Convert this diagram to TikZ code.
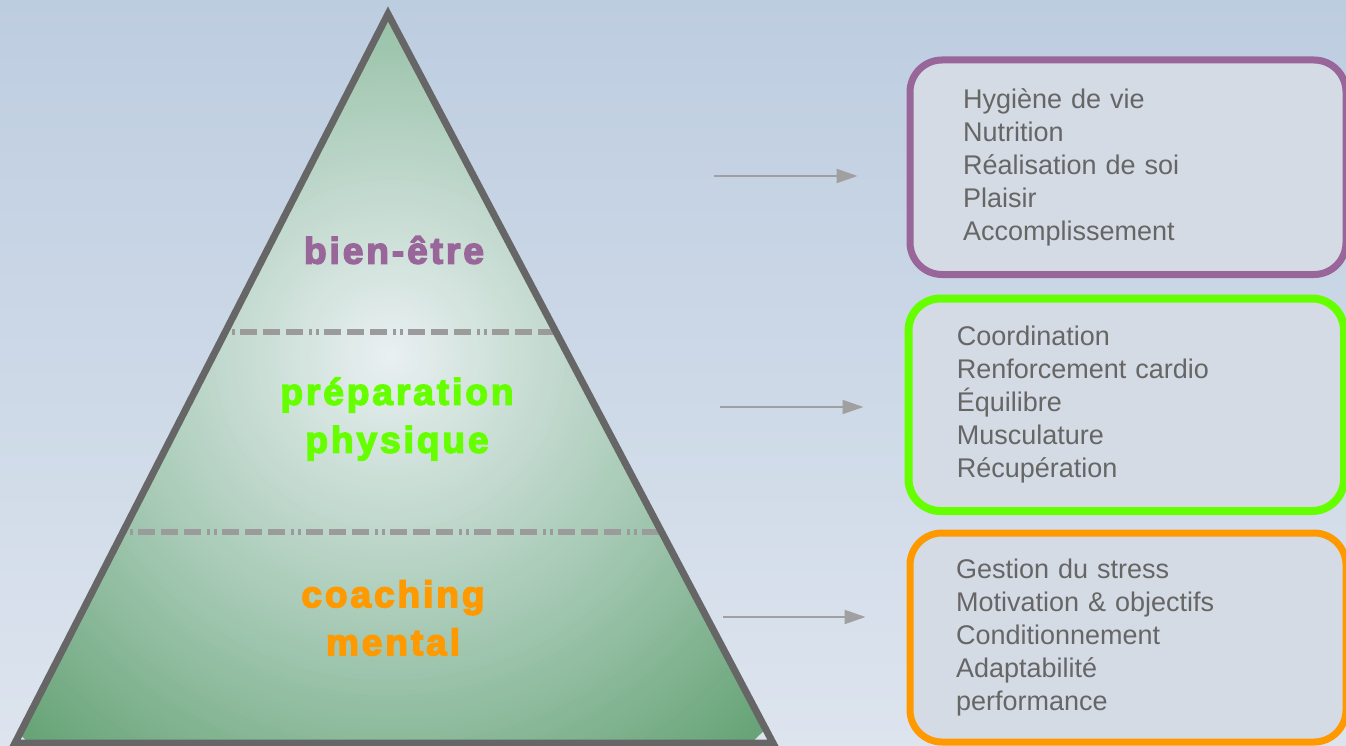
\documentclass[tikz,border=0pt]{standalone}
\usepackage{fontspec}
\setmainfont{Liberation Sans}
\newfontfamily\levelfont[LetterSpace=8, FakeBold=4]{Liberation Sans Bold}
\usetikzlibrary{arrows.meta, positioning, calc}
\usepackage{xcolor}
\definecolor{bgtop}{RGB}{189,205,224}
\definecolor{bgbottom}{RGB}{221,228,238}
\definecolor{wellness}{RGB}{153,102,153}
\definecolor{physical}{RGB}{102,255,0}
\definecolor{coach}{RGB}{255,153,0}
\definecolor{boxfill}{RGB}{212,219,228}
\definecolor{listgrey}{RGB}{102,102,102}
\definecolor{edgegrey}{RGB}{102,102,102}
\definecolor{sepgrey}{RGB}{155,155,155}
\definecolor{arrowgrey}{RGB}{160,160,160}
\definecolor{pyrlight}{RGB}{234,240,243}
\definecolor{pyrmid}{RGB}{162,199,177}
\definecolor{pyrdark}{RGB}{104,164,119}

\tikzset{
  level/.style={font=\levelfont\fontsize{37}{48}\selectfont, align=center, inner sep=0pt},
  listbox/.style={rounded corners=32pt, fill=boxfill, line width=7pt, inner sep=0pt,
    font=\fontsize{27}{33}\selectfont, text=listgrey, align=left},
  separator/.style={sepgrey, line width=6.5pt,
    dash pattern=on 3pt off 4pt on 3pt off 5pt on 17pt off 6pt on 17pt off 6pt on 17pt off 6pt},
  flow/.style={arrowgrey, line width=2pt, -{Triangle[length=21pt, width=14pt]}, shorten >=41pt}
}

\begin{document}
\begin{tikzpicture}[x=1pt, y=-1pt]
  % page background
  \shade[top color=bgtop, bottom color=bgbottom] (0,0) rectangle (1346,746);
  \useasboundingbox (0,0) rectangle (1346,746);

  % pyramid, filled with rings from dark green outside to the light centre
  \coordinate (apex) at (388,14);
  \coordinate (bl) at (15,743);
  \coordinate (br) at (773,743);
  \coordinate (glow) at (390,355);
  \begin{scope}
    \clip (apex) -- (br) -- (bl) -- cycle;
    \foreach \r in {530,525,...,300} {
      \pgfmathsetmacro\p{min(100,(\r-300)/225*100)}
      \fill[pyrdark!\p!pyrmid] (glow) circle (\r);
    }
    \foreach \r in {295,290,...,5} {
      \pgfmathsetmacro\p{\r/300*100}
      \fill[pyrmid!\p!pyrlight] (glow) circle (\r);
    }
  \end{scope}
  \draw[separator] ($(apex)!0.436!(bl)$) -- ($(apex)!0.436!(br)$);
  \draw[separator] ($(apex)!0.7106!(bl)$) -- ($(apex)!0.7106!(br)$);
  \draw[edgegrey, line width=7pt, line join=miter] (apex) -- (br) -- (bl) -- cycle;

  \node[level, text=wellness] (wellbeing) at (394,250) {bien-être};
  \node[level, text=physical] (fitness) at (397,419) {préparation\\physique};
  \node[level, text=coach] (coaching) at (393,618) {coaching\\mental};

  % lists on the right
  \node[listbox, draw=wellness, minimum width=436pt, minimum height=214.5pt, text width=330pt]
    (wellbox) at (1128,167.25)
    {Hygiène de vie\\Nutrition\\Réalisation de soi\\Plaisir\\Accomplissement};
  \node[listbox, draw=physical, line width=8pt, minimum width=435.5pt, minimum height=212.5pt, text width=339pt]
    (fitbox) at (1126.25,404.75)
    {Coordination\\Renforcement cardio\\Équilibre\\Musculature\\Récupération};
  \node[listbox, draw=coach, minimum width=436pt, minimum height=209pt, text width=344pt]
    (coachbox) at (1128,637.5)
    {Gestion du stress\\Motivation \& objectifs\\Conditionnement\\Adaptabilité\\performance};

  \coordinate (a1) at (714,176);
  \coordinate (a2) at (720,407);
  \coordinate (a3) at (723,617);
  \draw[flow, shorten >=49pt] (a1) -- (a1 -| wellbox.west);
  \draw[flow] (a2) -- (a2 -| fitbox.west);
  \draw[flow] (a3) -- (a3 -| coachbox.west);
\end{tikzpicture}
\end{document}
